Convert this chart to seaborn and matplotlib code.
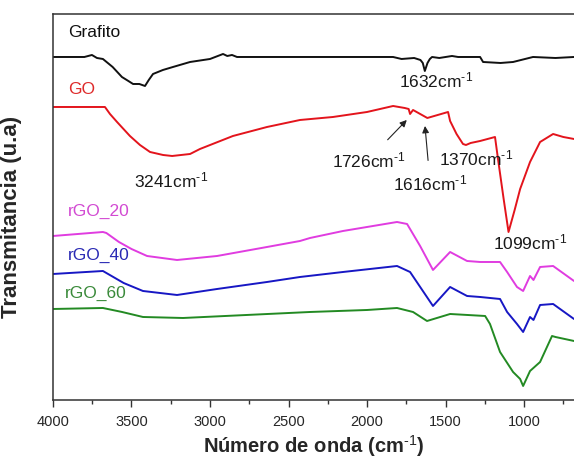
import numpy as np
import pandas as pd
import matplotlib
matplotlib.use("Agg")
import matplotlib.pyplot as plt
from matplotlib.ticker import MultipleLocator, NullLocator
import seaborn as sns

# FTIR spectra (wavenumber in cm-1, transmittance in arbitrary units, curves offset)
grafito_wn = [4000, 3800, 3752, 3720, 3682, 3620, 3561, 3520, 3490, 3450, 3414, 3390,
              3363, 3300, 3236, 3127, 3000, 2917, 2890, 2860, 2828, 2400, 1834, 1780,
              1700, 1660, 1645, 1632, 1615, 1600, 1586, 1540, 1459, 1420, 1280, 1261,
              1150, 1070, 943, 800, 682]
grafito_t = [343, 343, 345, 342, 341, 333, 323, 319, 316, 316, 314, 320,
             326, 330, 333, 338, 341, 346, 344, 345, 343, 343, 343, 341,
             342, 340, 337, 329, 337, 341, 343, 342, 344, 343, 343, 338,
             337, 338, 343, 342, 343]

go_wn = [4000, 3669, 3637, 3592, 3510, 3446, 3382, 3299, 3241, 3127, 3064, 2854,
         2637, 2427, 2217, 2000, 1834, 1760, 1735, 1726, 1707, 1616, 1484, 1471,
         1430, 1389, 1370, 1340, 1280, 1185, 1166, 1130, 1099, 1060, 1025, 962,
         898, 815, 750, 682]
go_t = [293, 293, 286, 278, 264, 255, 248, 245, 244, 246, 251, 264,
        273, 280, 283, 288, 294, 292, 291, 286, 290, 282, 288, 279,
        266, 256, 255, 257, 259, 263, 241, 201, 168, 190, 211, 238,
        258, 266, 263, 261]

rgo20_wn = [4000, 3682, 3660, 3580, 3500, 3401, 3210, 2955, 2637, 2427, 2363, 2153,
            2000, 1809, 1745, 1662, 1580, 1471, 1363, 1280, 1153, 1108, 1045, 1006,
            962, 940, 898, 815, 682]
rgo20_t = [164, 168, 167, 158, 151, 144, 140, 144, 153, 159, 162, 169,
           173, 178, 176, 154, 130, 148, 139, 138, 138, 128, 113, 109,
           124, 120, 133, 134, 119]

rgo40_wn = [4000, 3682, 3660, 3550, 3427, 3210, 2955, 2637, 2427, 2153, 1809, 1726,
            1580, 1471, 1363, 1280, 1153, 1108, 1045, 1006, 962, 940, 898, 815, 682]
rgo40_t = [126, 129, 127, 117, 109, 105, 111, 118, 123, 128, 134, 128,
           94, 113, 104, 103, 101, 88, 76, 68, 83, 80, 95, 96, 81]

rgo60_wn = [4000, 3682, 3560, 3427, 3172, 2363, 2000, 1809, 1707, 1618, 1471, 1248,
            1217, 1153, 1070, 1025, 1006, 962, 898, 822, 800, 682]
rgo60_t = [91, 92, 88, 83, 82, 88, 90, 92, 88, 79, 86, 84,
           76, 48, 28, 21, 14, 29, 38, 64, 63, 59]

samples = ["Grafito", "GO", "rGO_20", "rGO_40", "rGO_60"]
line_colors = ["#111111", "#e3141c", "#e03ce0", "#1717c4", "#238a23"]
label_colors = ["#111111", "#de2a2a", "#d24ad2", "#2a2ab4", "#3a8a3a"]

frames = []
for name, wn, t in [("Grafito", grafito_wn, grafito_t), ("GO", go_wn, go_t),
                    ("rGO_20", rgo20_wn, rgo20_t), ("rGO_40", rgo40_wn, rgo40_t),
                    ("rGO_60", rgo60_wn, rgo60_t)]:
    frames.append(pd.DataFrame({"wn": wn, "T": t, "muestra": name}))
df = pd.concat(frames, ignore_index=True)

sns.set_theme(style="white")
plt.rcParams["font.family"] = ["Liberation Sans", "DejaVu Sans"]
plt.rcParams["mathtext.fontset"] = "custom"
plt.rcParams["mathtext.rm"] = "Liberation Sans"
plt.rcParams["mathtext.bf"] = "Liberation Sans:bold"
plt.rcParams["mathtext.default"] = "regular"

fig = plt.figure(figsize=(5.74, 4.64), dpi=100)
ax = fig.add_axes([0.0923, 0.1358, 0.9077, 0.8319])

sns.lineplot(data=df, x="wn", y="T", hue="muestra", hue_order=samples,
             palette=dict(zip(samples, line_colors)), estimator=None,
             linewidth=1.4, legend=False, ax=ax)

ax.set_xlim(4000, 682)
ax.set_ylim(0, 386)

# Sample names
label_pos = {"Grafito": (3904, 368), "GO": (3904, 311), "rGO_20": (3904, 190),
             "rGO_40": (3904, 146), "rGO_60": (3922, 108)}
for name, col in zip(samples, label_colors):
    x, y = label_pos[name]
    ax.text(x, y, name, color=col, fontsize=12.5, ha="left", va="center")

# Band assignments
sup = r"cm$^{\text{-1}}$"
ann_kw = dict(fontsize=12.5, color="#1a1a1a", ha="center", va="center")
ax.text(3248, 221, "3241" + sup, **ann_kw)
ax.text(1561, 321, "1632" + sup, **ann_kw)
ax.text(1306, 243, "1370" + sup, **ann_kw)
ax.text(962, 159, "1099" + sup, **ann_kw)
ax.annotate("1726" + sup, xy=(1747, 280), xytext=(1987, 241),
            arrowprops=dict(arrowstyle="-|>", color="#222222", lw=0.8,
                            mutation_scale=10, shrinkA=6, shrinkB=0), **ann_kw)
ax.annotate("1616" + sup, xy=(1631, 274), xytext=(1599, 218),
            arrowprops=dict(arrowstyle="-|>", color="#222222", lw=0.8,
                            mutation_scale=10, shrinkA=6, shrinkB=0), **ann_kw)

ax.xaxis.set_major_locator(MultipleLocator(500))
ax.xaxis.set_minor_locator(MultipleLocator(250))
ax.yaxis.set_major_locator(NullLocator())
ax.tick_params(axis="x", which="major", direction="out", length=5, width=1.0,
               color="#333333", labelsize=10.5, pad=5, bottom=True)
ax.tick_params(axis="x", which="minor", direction="out", length=3, width=1.0,
               color="#333333", bottom=True)

for side in ["left", "bottom", "top"]:
    ax.spines[side].set_color("#333333")
    ax.spines[side].set_linewidth(1.1)
ax.spines["right"].set_visible(False)

ax.set_xlabel("Número de onda (" + r"cm$^{\text{-1}}$" + ")", fontsize=14.5,
              fontweight="bold", labelpad=3)
ax.set_ylabel("Transmitancia (u.a)", fontsize=16, fontweight="bold")
ax.yaxis.set_label_coords(-0.06, 0.477)

fig.savefig("out.png", dpi=100)
